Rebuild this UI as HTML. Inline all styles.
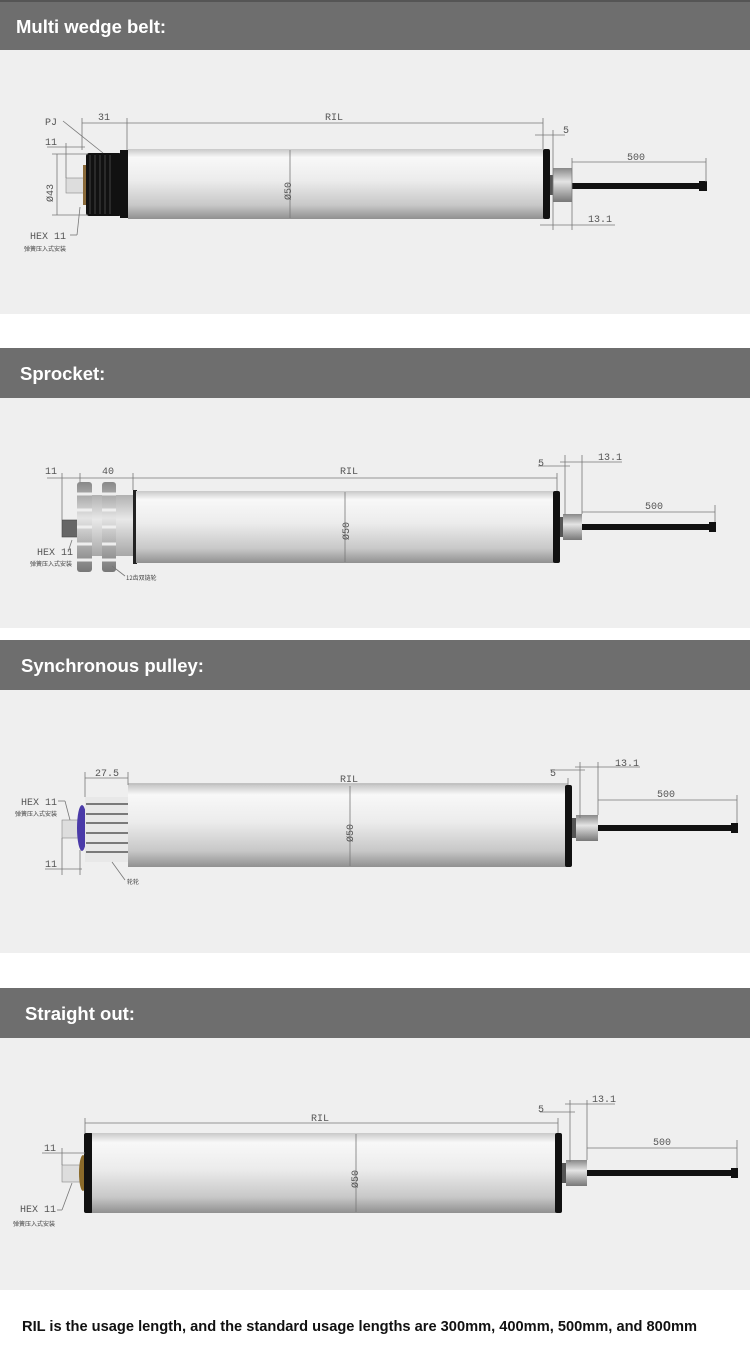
<!DOCTYPE html>
<html><head><meta charset="utf-8"><style>
body{margin:0;background:#fff;width:750px;height:1352px;overflow:hidden}
svg{display:block}
.h{font:bold 18.5px "Liberation Sans",sans-serif;fill:#fff}
.d{font:10px "Liberation Mono",monospace;fill:#555}
.c{font:6px "Noto Sans CJK SC",sans-serif;fill:#444}
.l{stroke:#777;stroke-width:0.8;fill:none}
</style></head><body>
<svg width="750" height="1352" viewBox="0 0 750 1352" xmlns="http://www.w3.org/2000/svg">
<defs>
<linearGradient id="t" x1="0" y1="0" x2="0" y2="1">
<stop offset="0" stop-color="#c8c8c8"/><stop offset="0.12" stop-color="#f8f8f8"/><stop offset="0.45" stop-color="#ececec"/><stop offset="0.8" stop-color="#c8c8c8"/><stop offset="1" stop-color="#909090"/></linearGradient>
<linearGradient id="n" x1="0" y1="0" x2="0" y2="1">
<stop offset="0" stop-color="#888"/><stop offset="0.4" stop-color="#e4e4e4"/><stop offset="1" stop-color="#777"/></linearGradient>
</defs>
<rect x="0" y="0" width="750" height="50" fill="#6e6e6e"/><rect x="0" y="0" width="750" height="2" fill="#555"/>
<rect x="0" y="50" width="750" height="264" fill="#efefef"/>
<rect x="0" y="348" width="750" height="50" fill="#6e6e6e"/>
<rect x="0" y="398" width="750" height="230" fill="#efefef"/>
<rect x="0" y="640" width="750" height="50" fill="#6e6e6e"/>
<rect x="0" y="690" width="750" height="263" fill="#efefef"/>
<rect x="0" y="988" width="750" height="50" fill="#6e6e6e"/>
<rect x="0" y="1038" width="750" height="252" fill="#efefef"/>
<text class="h" x="16" y="33">Multi wedge belt:</text>
<text class="h" x="20" y="380">Sprocket:</text>
<text class="h" x="21" y="672">Synchronous pulley:</text>
<text class="h" x="25" y="1020">Straight out:</text>

<!-- Section 1 -->
<rect x="66" y="178" width="19" height="15" fill="#ddd" stroke="#888" stroke-width="0.6"/>
<rect x="83" y="165" width="4" height="40" fill="#8a6a3a"/>
<rect x="86" y="153" width="36" height="63" rx="3" fill="#111"/>
<g stroke="#444" stroke-width="1"><line x1="90" y1="155" x2="90" y2="214"/><line x1="95" y1="155" x2="95" y2="214"/><line x1="100" y1="155" x2="100" y2="214"/><line x1="105" y1="155" x2="105" y2="214"/><line x1="110" y1="155" x2="110" y2="214"/></g>
<rect x="120" y="150" width="9" height="68" fill="#111"/>
<rect x="128" y="149" width="416" height="70" fill="url(#t)"/>
<rect x="543" y="149" width="7" height="70" rx="2" fill="#111"/>
<rect x="550" y="175" width="4" height="20" fill="#555"/>
<rect x="553" y="168" width="19" height="34" fill="url(#n)"/>
<rect x="572" y="183" width="128" height="6" fill="#111"/><rect x="699" y="181" width="8" height="10" fill="#111"/>
<line class="l" x1="290" y1="150" x2="290" y2="218"/>
<text class="d" transform="translate(291,200) rotate(-90)">Ø50</text>
<g class="l"><line x1="127" y1="123" x2="543" y2="123"/><line x1="82" y1="123" x2="127" y2="123"/><line x1="82" y1="118" x2="82" y2="150"/><line x1="127" y1="118" x2="127" y2="150"/><line x1="543" y1="118" x2="543" y2="149"/><line x1="553" y1="130" x2="553" y2="230"/><line x1="535" y1="135" x2="565" y2="135"/><line x1="572" y1="158" x2="572" y2="230"/><line x1="706" y1="158" x2="706" y2="182"/><line x1="572" y1="162" x2="706" y2="162"/><line x1="540" y1="225" x2="615" y2="225"/><line x1="47" y1="147" x2="85" y2="147"/><line x1="66" y1="143" x2="66" y2="178"/><line x1="52" y1="154" x2="88" y2="154"/><line x1="52" y1="215" x2="88" y2="215"/><line x1="57" y1="154" x2="57" y2="215"/><line x1="63" y1="121" x2="103" y2="153"/><line x1="80" y1="207" x2="77" y2="235"/><line x1="77" y1="235" x2="70" y2="235"/></g>
<text class="d" x="325" y="120">RIL</text><text class="d" x="98" y="120">31</text><text class="d" x="563" y="133">5</text><text class="d" x="627" y="160">500</text><text class="d" x="588" y="222">13.1</text><text class="d" x="45" y="125">PJ</text><text class="d" x="45" y="145">11</text>
<text class="d" transform="translate(53,202) rotate(-90)">Ø43</text>
<text class="d" x="30" y="239">HEX 11</text><text class="c" x="24" y="251">弹簧压入式安装</text>

<!-- Section 2 -->
<rect x="62" y="520" width="18" height="17" fill="#666" stroke="#444" stroke-width="0.6"/>
<rect x="88" y="495" width="46" height="61" fill="url(#n)" opacity="0.6"/>
<rect x="77" y="482" width="15" height="90" rx="3" fill="url(#n)"/>
<rect x="102" y="482" width="14" height="90" rx="3" fill="url(#n)"/>
<g stroke="#eee" stroke-width="3"><line x1="77" y1="494" x2="92" y2="494"/><line x1="77" y1="510" x2="92" y2="510"/><line x1="77" y1="527" x2="92" y2="527"/><line x1="77" y1="544" x2="92" y2="544"/><line x1="77" y1="560" x2="92" y2="560"/><line x1="102" y1="494" x2="116" y2="494"/><line x1="102" y1="510" x2="116" y2="510"/><line x1="102" y1="527" x2="116" y2="527"/><line x1="102" y1="544" x2="116" y2="544"/><line x1="102" y1="560" x2="116" y2="560"/></g>
<rect x="133" y="490" width="4" height="74" fill="#222"/>
<rect x="136" y="491" width="418" height="72" fill="url(#t)"/>
<rect x="553" y="491" width="7" height="72" rx="2" fill="#111"/>
<rect x="560" y="517" width="3" height="20" fill="#555"/>
<rect x="563" y="514" width="19" height="26" fill="url(#n)"/>
<rect x="582" y="524" width="128" height="6" fill="#111"/><rect x="709" y="522" width="7" height="10" fill="#111"/>
<line class="l" x1="345" y1="492" x2="345" y2="562"/>
<text class="d" transform="translate(349,540) rotate(-90)">Ø50</text>
<g class="l"><line x1="47" y1="478" x2="557" y2="478"/><line x1="62" y1="473" x2="62" y2="520"/><line x1="80" y1="473" x2="80" y2="482"/><line x1="133" y1="473" x2="133" y2="490"/><line x1="557" y1="473" x2="557" y2="491"/><line x1="538" y1="466" x2="570" y2="466"/><line x1="565" y1="455" x2="565" y2="515"/><line x1="582" y1="455" x2="582" y2="514"/><line x1="560" y1="462" x2="622" y2="462"/><line x1="582" y1="512" x2="715" y2="512"/><line x1="715" y1="505" x2="715" y2="522"/><line x1="72" y1="540" x2="68" y2="552"/><line x1="112" y1="566" x2="125" y2="576"/></g>
<text class="d" x="340" y="474">RIL</text><text class="d" x="102" y="474">40</text><text class="d" x="45" y="474">11</text><text class="d" x="538" y="466">5</text><text class="d" x="598" y="460">13.1</text><text class="d" x="645" y="509">500</text>
<text class="d" x="37" y="555">HEX 11</text><text class="c" x="30" y="566">弹簧压入式安装</text><text class="c" x="126" y="580">12齿双链轮</text>

<!-- Section 3 -->
<rect x="62" y="820" width="18" height="18" fill="#ddd" stroke="#888" stroke-width="0.6"/>
<ellipse cx="82" cy="828" rx="5" ry="23" fill="#4a3aa8"/>
<rect x="85" y="797" width="44" height="65" fill="#e8e8e8"/>
<g stroke="#555" stroke-width="1.5"><line x1="86" y1="804" x2="128" y2="804"/><line x1="86" y1="814" x2="128" y2="814"/><line x1="86" y1="823" x2="128" y2="823"/><line x1="86" y1="833" x2="128" y2="833"/><line x1="86" y1="843" x2="128" y2="843"/><line x1="86" y1="852" x2="128" y2="852"/></g>
<rect x="128" y="785" width="440" height="82" fill="url(#t)"/>
<rect x="565" y="785" width="7" height="82" rx="2" fill="#111"/>
<rect x="572" y="818" width="4" height="20" fill="#555"/>
<rect x="576" y="815" width="22" height="26" fill="url(#n)"/>
<rect x="598" y="825" width="134" height="6" fill="#111"/><rect x="731" y="823" width="7" height="10" fill="#111"/>
<line class="l" x1="350" y1="786" x2="350" y2="866"/>
<text class="d" transform="translate(353,842) rotate(-90)">Ø50</text>
<g class="l"><line x1="85" y1="778" x2="128" y2="778"/><line x1="85" y1="772" x2="85" y2="797"/><line x1="128" y1="772" x2="128" y2="785"/><line x1="128" y1="784" x2="568" y2="784"/><line x1="568" y1="778" x2="568" y2="785"/><line x1="550" y1="770" x2="585" y2="770"/><line x1="580" y1="762" x2="580" y2="818"/><line x1="598" y1="762" x2="598" y2="815"/><line x1="575" y1="767" x2="640" y2="767"/><line x1="598" y1="800" x2="737" y2="800"/><line x1="737" y1="795" x2="737" y2="823"/><line x1="45" y1="869" x2="82" y2="869"/><line x1="62" y1="838" x2="62" y2="875"/><line x1="80" y1="850" x2="80" y2="875"/><line x1="58" y1="801" x2="65" y2="801"/><line x1="65" y1="801" x2="70" y2="820"/><line x1="112" y1="862" x2="125" y2="880"/></g>
<text class="d" x="95" y="776">27.5</text><text class="d" x="340" y="782">RIL</text><text class="d" x="550" y="776">5</text><text class="d" x="615" y="766">13.1</text><text class="d" x="657" y="797">500</text><text class="d" x="45" y="867">11</text>
<text class="d" x="21" y="805">HEX 11</text><text class="c" x="15" y="816">弹簧压入式安装</text><text class="c" x="127" y="884">轮轮</text>

<!-- Section 4 -->
<rect x="62" y="1165" width="18" height="17" fill="#ddd" stroke="#888" stroke-width="0.6"/>
<ellipse cx="83" cy="1173" rx="4" ry="18" fill="#8a6a2a"/>
<rect x="84" y="1133" width="9" height="80" rx="2" fill="#111"/>
<rect x="92" y="1133" width="464" height="80" fill="url(#t)"/>
<rect x="555" y="1133" width="7" height="80" rx="2" fill="#111"/>
<rect x="562" y="1163" width="4" height="20" fill="#555"/>
<rect x="566" y="1160" width="21" height="26" fill="url(#n)"/>
<rect x="587" y="1170" width="145" height="6" fill="#111"/><rect x="731" y="1168" width="7" height="10" fill="#111"/>
<line class="l" x1="356" y1="1134" x2="356" y2="1212"/>
<text class="d" transform="translate(358,1188) rotate(-90)">Ø50</text>
<g class="l"><line x1="85" y1="1123" x2="558" y2="1123"/><line x1="85" y1="1118" x2="85" y2="1133"/><line x1="558" y1="1118" x2="558" y2="1133"/><line x1="540" y1="1112" x2="575" y2="1112"/><line x1="570" y1="1100" x2="570" y2="1162"/><line x1="587" y1="1100" x2="587" y2="1160"/><line x1="565" y1="1104" x2="615" y2="1104"/><line x1="587" y1="1148" x2="737" y2="1148"/><line x1="737" y1="1140" x2="737" y2="1168"/><line x1="42" y1="1153" x2="85" y2="1153"/><line x1="62" y1="1148" x2="62" y2="1165"/><line x1="57" y1="1210" x2="62" y2="1210"/><line x1="62" y1="1210" x2="72" y2="1183"/></g>
<text class="d" x="311" y="1121">RIL</text><text class="d" x="538" y="1112">5</text><text class="d" x="592" y="1102">13.1</text><text class="d" x="653" y="1145">500</text><text class="d" x="44" y="1151">11</text>
<text class="d" x="20" y="1212">HEX 11</text><text class="c" x="13" y="1226">弹簧压入式安装</text>

<text x="22" y="1331" textLength="675" lengthAdjust="spacingAndGlyphs" style="font:bold 14.5px 'Liberation Sans',sans-serif;fill:#111">RIL is the usage length, and the standard usage lengths are 300mm, 400mm, 500mm, and 800mm</text>
</svg>
</body></html>
